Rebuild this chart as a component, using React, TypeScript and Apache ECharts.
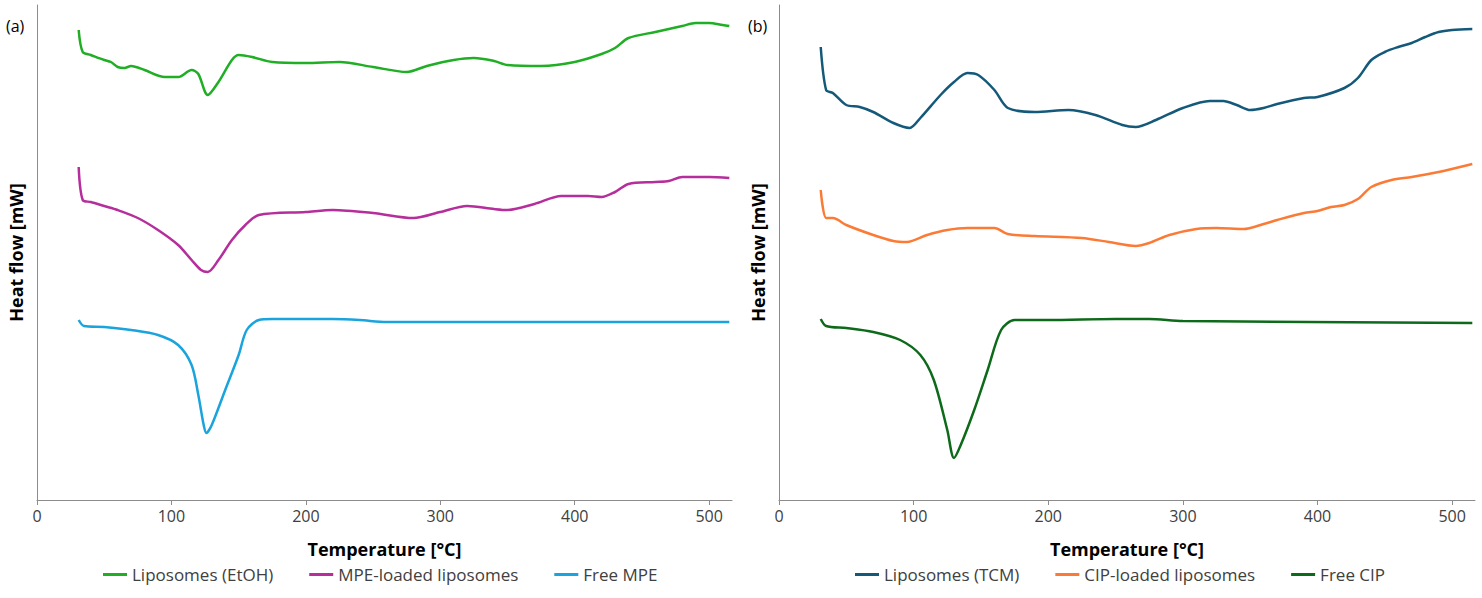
import { useRef, useEffect } from "react"
import * as echarts from "echarts"

// y values are heights above the x axis (arbitrary units)
const lipoEtoh = [[31,470],[34,448],[40,445],[50,440],[55,438],[60,433],[65,432],[70,434],[80,430],[95,423],[105,423],[115,430],[120,426],[127,405],[135,418],[145,440],[150,445],[160,443],[175,438],[200,437],[225,438],[250,433],[275,428],[290,434],[310,440],[325,442],[340,439],[350,435],[375,434],[400,438],[420,446],[430,452],[440,462],[460,468],[480,474],[490,477],[500,477],[510,475],[515,474]]
const mpeLoaded = [[31,333],[34,300],[40,298],[50,294],[60,290],[75,282],[90,270],[105,255],[115,240],[122,230],[127,228],[135,240],[145,260],[155,275],[165,285],[200,288],[220,290],[250,287],[280,282],[300,288],[320,294],[340,291],[350,290],[370,296],[390,304],[410,304],[420,303],[430,308],[440,316],[460,318],[470,319],[480,323],[500,323],[515,322]]
const freeMpe = [[31,180],[35,174],[50,173],[70,170],[90,165],[105,155],[115,135],[120,105],[124,75],[126,67],[130,75],[140,110],[150,145],[156,170],[165,180],[175,181],[220,181],[240,180],[260,178],[515,178]]

const lipoTcm = [[31,453],[35,410],[40,407],[50,395],[60,393],[70,388],[85,377],[97,372],[105,382],[120,405],[130,418],[140,427],[148,425],[160,410],[170,392],[190,388],[215,390],[235,385],[255,375],[265,373],[280,380],[300,392],[320,399],[330,399],[340,395],[350,390],[360,392],[370,396],[390,402],[400,403],[420,412],[430,422],[440,440],[450,448],[460,453],[470,457],[480,463],[490,468],[500,470],[515,471]]
const cipLoaded = [[31,310],[35,282],[40,282],[50,275],[70,265],[85,259],[95,258],[110,265],[125,270],[140,272],[160,272],[170,266],[190,264],[225,262],[245,258],[265,254],[275,257],[290,265],[310,271],[325,272],[345,271],[360,276],[370,280],[390,287],[400,289],[410,293],[420,295],[430,301],[440,313],[455,320],[470,323],[490,328],[515,336]]
const freeCip = [[31,181],[35,174],[50,172],[70,168],[90,160],[105,145],[115,120],[125,70],[130,42],[135,55],[145,90],[155,130],[165,170],[175,180],[200,180],[250,181],[275,181],[300,179],[515,177]]

const xTicks = [0, 100, 200, 300, 400, 500]

const font = "Open Sans, Liberation Sans, sans-serif"

function axes(i: number) {
  return {
    x: {
      type: "value", gridIndex: i, min: 0, max: 517, interval: 100,
      name: "Temperature [°C]", nameLocation: "middle", nameGap: 40,
      nameTextStyle: { fontFamily: font, fontSize: 18, fontWeight: "bold", color: "#000" },
      axisLine: { lineStyle: { color: "#8c8c8c" } },
      axisTick: { show: true, lineStyle: { color: "#8c8c8c" }, length: 5 },
      axisLabel: { fontFamily: font, fontSize: 16, color: "#404040", showMaxLabel: false, formatter: (v: number) => xTicks.includes(v) ? String(v) : "" },
      splitLine: { show: false },
    },
    y: {
      type: "value", gridIndex: i, min: 0, max: 495,
      name: "Heat flow [mW]", nameLocation: "middle", nameGap: 12,
      nameTextStyle: { fontFamily: font, fontSize: 18, fontWeight: "bold", color: "#000" },
      axisLine: { show: true, lineStyle: { color: "#8c8c8c" } },
      axisTick: { show: false }, axisLabel: { show: false }, splitLine: { show: false },
    },
  }
}

function line(name: string, data: number[][], color: string, i: number) {
  return { name, type: "line", data, xAxisIndex: i, yAxisIndex: i, showSymbol: false, smooth: 0.3, lineStyle: { color, width: 2.5 }, itemStyle: { color } }
}

export default function App() {
  const ref = useRef<HTMLDivElement>(null)

  useEffect(() => {
    if (!ref.current) return
    const chart = echarts.init(ref.current, null, { renderer: "svg" })
    const a = axes(0)
    const b = axes(1)
    const legendBase = { bottom: 10, icon: "rect", itemWidth: 24, itemHeight: 3, itemGap: 36, textStyle: { fontFamily: font, fontSize: 17, color: "#404040" } }
    chart.setOption({
      animation: false,
      backgroundColor: "#fff",
      grid: [
        { left: 37, top: 5, width: 695, height: 495 },
        { left: 779, top: 5, width: 696, height: 495 },
      ],
      xAxis: [a.x, b.x],
      yAxis: [a.y, b.y],
      legend: [
        { ...legendBase, left: 98, data: ["Liposomes (EtOH)", "MPE-loaded liposomes", "Free MPE"] },
        { ...legendBase, left: 850, data: ["Liposomes (TCM)", "CIP-loaded liposomes", "Free CIP"] },
      ],
      graphic: [
        { type: "text", left: 6, top: 18, style: { text: "(a)", font: `16px ${font}`, fill: "#000" } },
        { type: "text", left: 748, top: 18, style: { text: "(b)", font: `16px ${font}`, fill: "#000" } },
      ],
      series: [
        line("Liposomes (EtOH)", lipoEtoh, "#1fae24", 0),
        line("MPE-loaded liposomes", mpeLoaded, "#b52e9b", 0),
        line("Free MPE", freeMpe, "#1aa3dc", 0),
        line("Liposomes (TCM)", lipoTcm, "#14597a", 1),
        line("CIP-loaded liposomes", cipLoaded, "#fb7b36", 1),
        line("Free CIP", freeCip, "#0d6a1a", 1),
      ],
    })
    return () => chart.dispose()
  }, [])

  return <div ref={ref} style={{ position: "fixed", left: 0, top: 0, width: 1482, height: 598 }} />
}
